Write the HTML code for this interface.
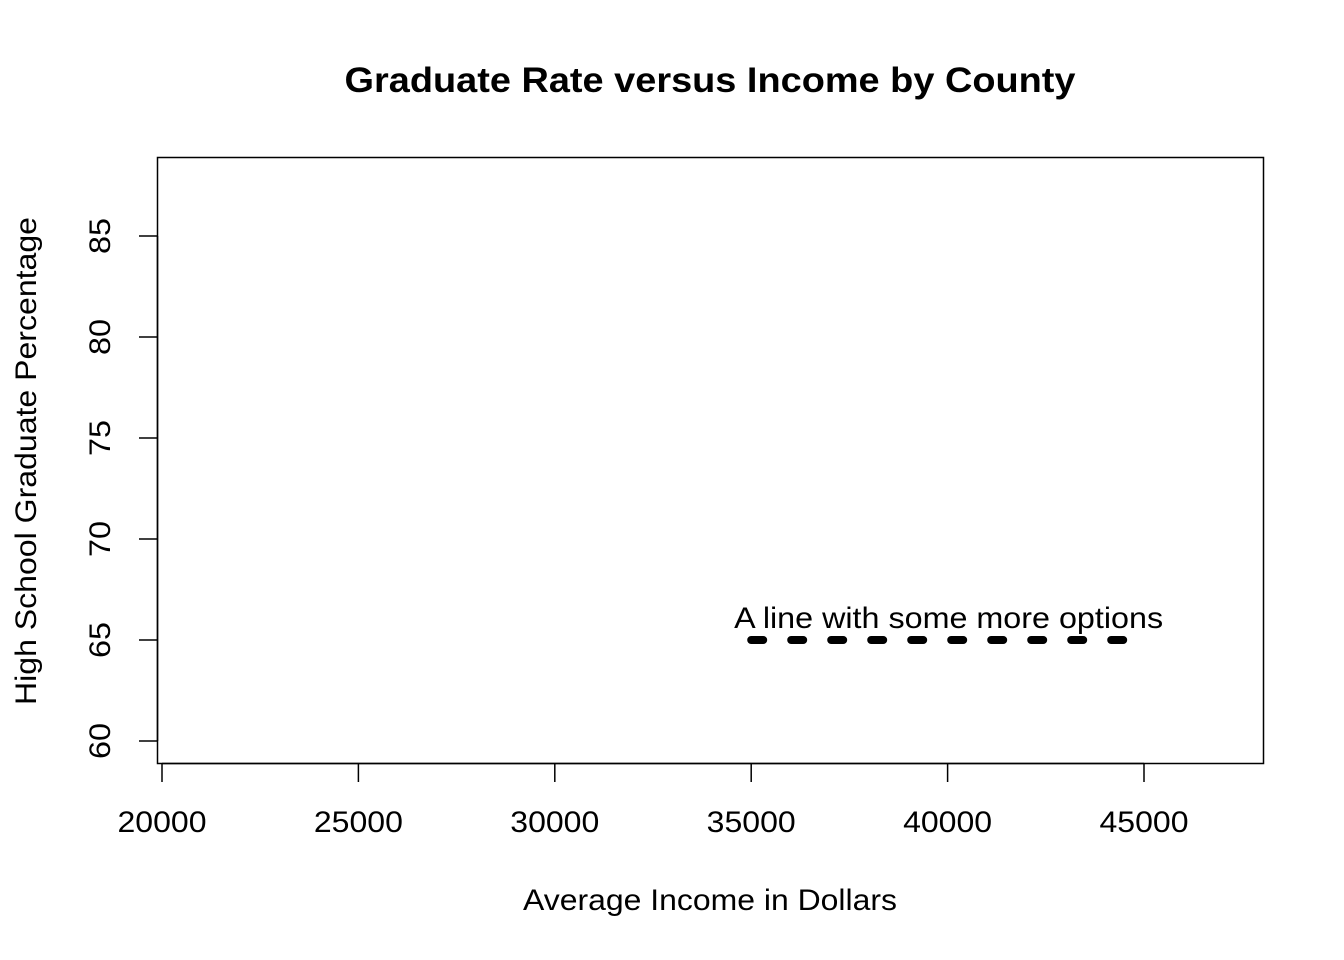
<!DOCTYPE html>
<html><head><meta charset="utf-8"><style>body{margin:0;background:#fff}svg{display:block}text{font-family:"Liberation Sans",Arial,sans-serif;fill:#000}</style></head>
<body>
<svg id="chart" width="1344" height="960" viewBox="0 0 1344 960" xmlns="http://www.w3.org/2000/svg">
<text x="710" y="92" text-anchor="middle" font-size="35" font-weight="bold" textLength="731" lengthAdjust="spacingAndGlyphs">Graduate Rate versus Income by County</text>
<rect x="157.5" y="157.5" width="1106" height="606" fill="none" stroke="#000" stroke-width="1.5"/>
<g id="xaxis"></g>
<g id="yaxis"></g>
<text x="710" y="910" text-anchor="middle" font-size="30" textLength="374" lengthAdjust="spacingAndGlyphs">Average Income in Dollars</text>
<text transform="translate(36,461) rotate(-90)" text-anchor="middle" font-size="30" textLength="488" lengthAdjust="spacingAndGlyphs">High School Graduate Percentage</text>
<g id="marks"></g>
</svg>
<script>
const xTicks=[20000,25000,30000,35000,40000,45000];
const yTicks=[60,65,70,75,80,85];
const lineX=[35000,44500];
const lineY=[65,65];
const labelX=[40000];
const labelY=[65];
const labelText=["A line with some more options"];
const NS="http://www.w3.org/2000/svg";
function sx(v){return 162+(v-20000)*982/25000;}
function sy(v){return 741-(v-60)*505/25;}
function mk(tag,attrs,parent){const e=document.createElementNS(NS,tag);for(const k in attrs)e.setAttribute(k,attrs[k]);parent.appendChild(e);return e;}
const xa=document.getElementById('xaxis'),ya=document.getElementById('yaxis'),m=document.getElementById('marks');
mk('line',{x1:sx(xTicks[0]),x2:sx(xTicks[xTicks.length-1]),y1:763.5,y2:763.5,stroke:'#000','stroke-width':1.5},xa);
xTicks.forEach(t=>{
 const l=mk('line',{x1:sx(t),x2:sx(t),y1:763.5,y2:782,stroke:'#000','stroke-width':1.5},xa);
 
 
 const tx=mk('text',{x:sx(t),y:832,'text-anchor':'middle','font-size':30,textLength:89,lengthAdjust:'spacingAndGlyphs'},xa);tx.textContent=t;
 
 
});
mk('line',{x1:157.5,x2:157.5,y1:sy(yTicks[0]),y2:sy(yTicks[yTicks.length-1]),stroke:'#000','stroke-width':1.5},ya);
yTicks.forEach(t=>{
 const l=mk('line',{x1:139,x2:157.5,y1:sy(t),y2:sy(t),stroke:'#000','stroke-width':1.5},ya);
 
 
 const tx=mk('text',{transform:`translate(110,${sy(t)}) rotate(-90)`,'text-anchor':'middle','font-size':30,textLength:36,lengthAdjust:'spacingAndGlyphs'},ya);tx.textContent=t;
 
 
});
const ln=mk('line',{x1:sx(lineX[0]),x2:sx(lineX[1]),y1:sy(lineY[0]),y2:sy(lineY[1]),stroke:'#000','stroke-width':8,'stroke-linecap':'round','stroke-dasharray':'12 28'},m);


labelX.forEach((v,i)=>{
 const tx=mk('text',{x:sx(v)+1,y:sy(labelY[i])-12,'text-anchor':'middle','font-size':30,textLength:429,lengthAdjust:'spacingAndGlyphs'},m);
 tx.textContent=labelText[i];
 
 
});
</script>
</body></html>
